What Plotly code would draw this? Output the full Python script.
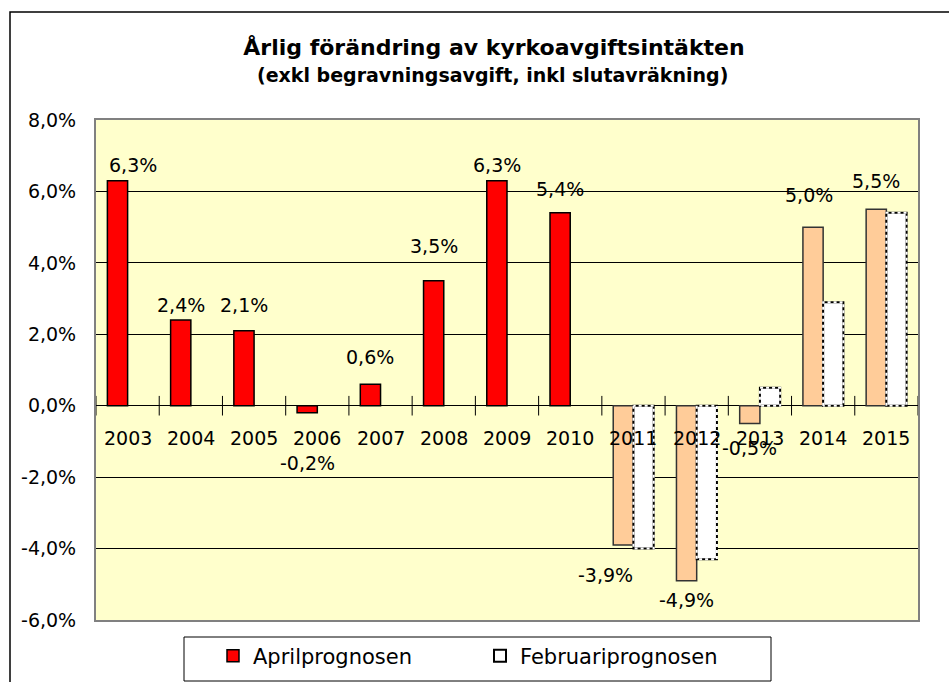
import plotly.graph_objects as go

# ---------------- data ----------------
years = ["2003", "2004", "2005", "2006", "2007", "2008", "2009", "2010",
         "2011", "2012", "2013", "2014", "2015"]
april = [6.3, 2.4, 2.1, -0.2, 0.6, 3.5, 6.3, 5.4, -3.9, -4.9, -0.5, 5.0, 5.5]
february = [None, None, None, None, None, None, None, None,
            -4.0, -4.3, 0.5, 2.9, 5.4]
forecast_from = "2011"

y_tickvals = [-6, -4, -2, 0, 2, 4, 6, 8]
y_ticktext = ["-6,0%", "-4,0%", "-2,0%", "0,0%", "2,0%", "4,0%", "6,0%", "8,0%"]

title_main = "Årlig förändring av kyrkoavgiftsintäkten"
title_sub = "(exkl begravningsavgift, inkl slutavräkning)"
name_april = "Aprilprognosen"
name_feb = "Februariprognosen"

# ---------------- styling ----------------
W, H = 949, 682
ML, MR, MT, MB = 96, 31, 120, 62
PW, PH = W - ML - MR, H - MT - MB
FONT = "DejaVu Sans"
RED, PEACH, BG = "#FF0000", "#FFCC99", "#FFFFCC"
BW = 0.32  # bar width in category units

# label offsets (pixels) for the data labels: (dx, dy)
label_dx = [15, 0, 0, 0, 0, 0, 0, 0, -18, 0, 0, -4, 0]
label_dy = [-16, -15, -26, 50, -27, -35, -16, -24, 30, 19, 24, -32, -28]

xi = list(range(len(years)))
fc_idx = years.index(forecast_from)
april_colors = [RED if i < fc_idx else PEACH for i in xi]
april_lines = ["#000000" if i < fc_idx else "#333333" for i in xi]


def px_x(p):
    return (p - ML) / PW


def px_y(p):
    return (H - MB - p) / PH


fig = go.Figure()

fig.add_trace(go.Bar(
    x=xi, y=april, offset=-BW, width=BW, name=name_april,
    marker=dict(color=april_colors, line=dict(color=april_lines, width=1.5)),
    hoverinfo="skip",
))

fx = [i for i in xi if february[i] is not None]
fy = [february[i] for i in fx]
fig.add_trace(go.Bar(
    x=fx, y=fy, offset=0, width=BW, name=name_feb,
    marker=dict(color="white", line=dict(color="black", width=2)),
    hoverinfo="skip",
))

# white dashes over the black outline -> dashed border look
ox, oy = [], []
for i, v in zip(fx, fy):
    ox += [i, i, i + BW, i + BW, i, None]
    oy += [0, v, v, 0, 0, None]
fig.add_trace(go.Scatter(
    x=ox, y=oy, mode="lines", showlegend=False, hoverinfo="skip",
    line=dict(color="white", width=2, dash="3px,3px"),
))

# category tick marks crossing the zero line
bx = [i - 0.5 for i in xi] + [xi[-1] + 0.5]
fig.add_trace(go.Scatter(
    x=bx, y=[0] * len(bx), mode="markers", showlegend=False, hoverinfo="skip",
    marker=dict(symbol="line-ns-open", size=14, color="black",
                line=dict(color="black", width=1)),
))

annotations = []
# category labels just below the zero line
for i, yr in zip(xi, years):
    annotations.append(dict(
        x=i, y=0, xref="x", yref="y", text=yr, showarrow=False,
        yanchor="middle", xanchor="center", yshift=-32,
        font=dict(family=FONT, size=19, color="black"),
    ))
# data labels
for i, v in zip(xi, april):
    annotations.append(dict(
        x=i - BW / 2, y=v, xref="x", yref="y",
        text=f"{v:.1f}%".replace(".", ","), showarrow=False,
        yanchor="middle", xanchor="center",
        xshift=label_dx[i], yshift=-label_dy[i],
        font=dict(family=FONT, size=19, color="black"),
    ))
# subtitle
annotations.append(dict(
    x=px_x(492), y=1, xref="paper", yref="paper", text=f"<b>{title_sub}</b>",
    showarrow=False, xanchor="center", yanchor="middle", yshift=MT - 75,
    font=dict(family=FONT, size=19, color="black"),
))

shapes = [
    dict(type="rect", xref="paper", yref="paper",
         x0=px_x(10), x1=px_x(W + 40), y0=px_y(H + 40), y1=px_y(12),
         line=dict(color="black", width=1.5), fillcolor="rgba(0,0,0,0)",
         layer="below"),
    dict(type="rect", xref="paper", yref="paper",
         x0=px_x(184), x1=px_x(771), y0=px_y(681), y1=px_y(637),
         line=dict(color="black", width=1), fillcolor="white", layer="above"),
]

fig.update_layout(
    width=W, height=H,
    margin=dict(l=ML, r=MR, t=MT, b=MB, pad=0, autoexpand=False),
    paper_bgcolor="white", plot_bgcolor=BG,
    barmode="overlay",
    font=dict(family=FONT, size=19, color="black"),
    title=dict(
        text=f"<b>{title_main}</b>", x=494 / W, xref="container", xanchor="center",
        y=1 - 47 / H, yref="container", yanchor="middle",
        font=dict(family=FONT, size=22, color="black"),
    ),
    xaxis=dict(
        range=[-0.5, len(years) - 0.5], showticklabels=False, ticks="",
        showgrid=False, zeroline=False,
        showline=True, mirror=True, linecolor="#808080", linewidth=2,
    ),
    yaxis=dict(
        range=[-6, 8], tickmode="array", tickvals=y_tickvals, ticktext=y_ticktext,
        showgrid=True, gridcolor="black", gridwidth=1,
        zeroline=True, zerolinecolor="black", zerolinewidth=1,
        showline=True, mirror=True, linecolor="#808080", linewidth=2,
        ticks="", ticklabelstandoff=14,
        tickfont=dict(family=FONT, size=19, color="black"),
    ),
    legend=dict(
        orientation="h", xref="container", yref="container",
        x=213 / W, xanchor="left", y=1 - 656 / H, yanchor="middle",
        borderwidth=0, bgcolor="rgba(0,0,0,0)",
        font=dict(family=FONT, size=21, color="black"),
        entrywidth=222, entrywidthmode="pixels",
    ),
    annotations=annotations,
    shapes=shapes,
    showlegend=True,
)

fig.write_html(
    "out.html",
    config={"displayModeBar": False},
    post_script="document.body.style.margin='0';document.body.style.overflow='hidden';",
)
